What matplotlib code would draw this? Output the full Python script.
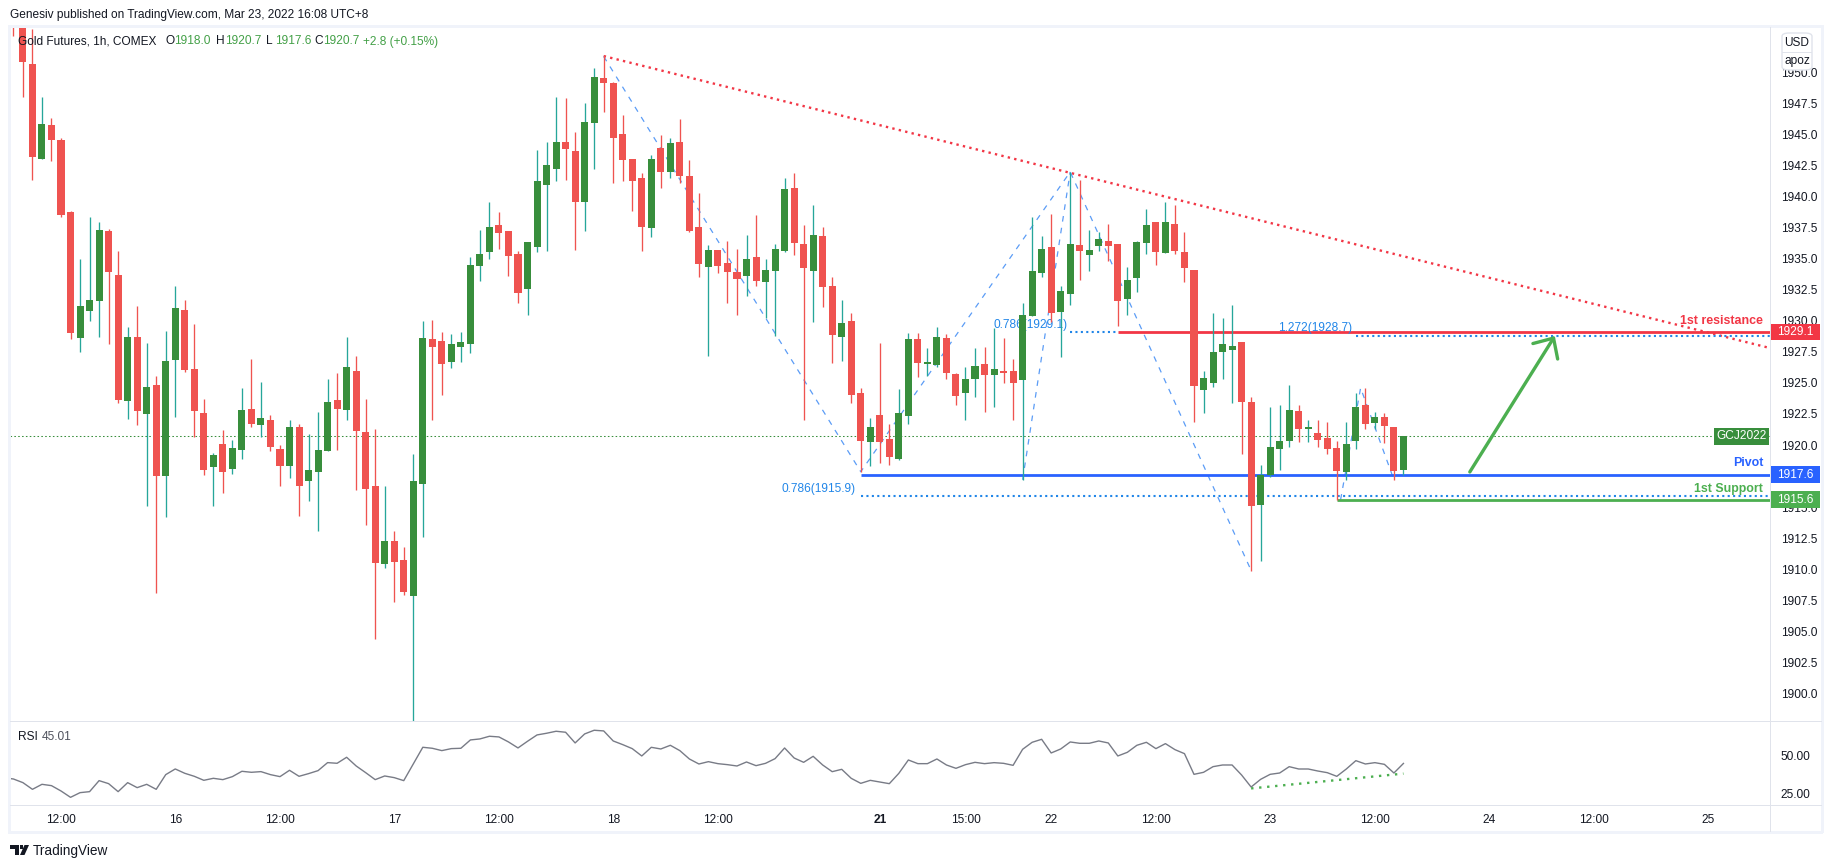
import numpy as np
import matplotlib
matplotlib.use("Agg")
import matplotlib.pyplot as plt
from matplotlib.patches import Rectangle, Polygon, FancyBboxPatch
from matplotlib.transforms import blended_transform_factory

plt.rcParams["font.family"] = ["Liberation Sans", "DejaVu Sans"]

W, H = 1834, 868

opens = [1958.0, 1956.0, 1950.68, 1943.06, 1945.77, 1944.56, 1938.76, 1928.65, 1930.79, 1931.63,
         1937.23, 1933.69, 1923.57, 1928.7, 1922.52, 1924.83, 1917.53, 1926.87, 1930.87, 1926.12,
         1922.58, 1918.25, 1920.08, 1918.09, 1919.62, 1922.9, 1921.64, 1922.01, 1919.68, 1918.33,
         1921.45, 1917.13, 1917.85, 1919.54, 1923.62, 1922.85, 1925.96, 1921.05, 1916.7, 1910.44,
         1912.27, 1910.74, 1907.86, 1916.89, 1928.54, 1928.38, 1926.71, 1927.92, 1928.16, 1934.44,
         1935.57, 1937.72, 1937.23, 1935.38, 1932.59, 1935.97, 1940.97, 1942.25, 1944.4, 1943.68,
         1939.6, 1945.96, 1949.56, 1949.15, 1945.05, 1943.03, 1941.5, 1937.5, 1943.92, 1942.01,
         1944.4, 1941.67, 1937.56, 1934.36, 1935.71, 1934.66, 1933.93, 1933.64, 1935.14, 1933.15,
         1934.04, 1935.65, 1940.7, 1936.19, 1934.04, 1936.83, 1932.8, 1928.72, 1930.0, 1924.19,
         1920.27, 1922.42, 1920.48, 1918.9, 1922.36, 1928.54, 1926.55, 1926.47, 1928.62, 1925.72,
         1924.22, 1925.34, 1926.52, 1925.67, 1925.96, 1925.96, 1925.26, 1930.42, 1933.88, 1935.95,
         1930.74, 1932.19, 1936.11, 1935.33, 1936.05, 1936.43, 1936.19, 1931.78, 1933.48, 1936.3,
         1937.96, 1935.49, 1937.8, 1935.54, 1934.09, 1924.46, 1925.02, 1927.48, 1927.69, 1928.26,
         1923.48, 1915.15, 1917.59, 1919.71, 1920.31, 1922.7, 1921.25, 1920.93, 1920.6, 1919.72,
         1917.86, 1920.31, 1923.26, 1921.81, 1922.29, 1921.49, 1918.0]
highs = [1959.0, 1957.0, 1953.48, 1948.03, 1946.34, 1944.72, 1938.84, 1934.98, 1938.36, 1937.96,
         1937.4, 1935.62, 1929.5, 1931.2, 1928.22, 1925.56, 1929.18, 1932.81, 1931.68, 1929.75,
         1923.71, 1919.36, 1921.21, 1920.4, 1924.59, 1926.93, 1925.07, 1922.42, 1920.0, 1922.01,
         1921.69, 1920.89, 1922.66, 1925.32, 1925.8, 1928.7, 1927.17, 1923.71, 1921.29, 1916.7,
         1913.07, 1911.78, 1919.27, 1929.99, 1930.07, 1929.1, 1928.94, 1929.1, 1935.14, 1937.31,
         1939.57, 1938.76, 1937.23, 1935.62, 1936.35, 1943.76, 1944.4, 1948.03, 1947.95, 1945.21,
         1947.54, 1950.36, 1951.41, 1949.2, 1946.58, 1943.03, 1941.91, 1943.36, 1944.97, 1944.73,
         1946.26, 1942.95, 1940.3, 1936.11, 1935.71, 1936.43, 1935.79, 1936.91, 1938.52, 1934.98,
         1936.19, 1941.5, 1941.91, 1937.72, 1939.33, 1937.56, 1933.53, 1931.68, 1930.63, 1924.59,
         1922.18, 1928.22, 1921.69, 1924.51, 1929.02, 1929.02, 1927.81, 1929.5, 1928.94, 1925.8,
         1926.28, 1927.81, 1927.89, 1929.42, 1928.62, 1926.93, 1931.44, 1938.36, 1936.83, 1938.6,
         1932.8, 1942.0, 1941.34, 1937.32, 1937.15, 1937.8, 1936.19, 1934.34, 1936.43, 1939.01,
         1937.96, 1939.57, 1939.33, 1937.15, 1934.09, 1925.96, 1930.65, 1930.27, 1931.24, 1928.26,
         1923.9, 1918.35, 1923.07, 1923.26, 1924.87, 1923.26, 1922.05, 1922.05, 1921.89, 1920.36,
         1921.89, 1924.15, 1924.63, 1922.62, 1922.54, 1921.49, 1920.7]
lows = [1952.97, 1948.05, 1941.34, 1943.06, 1942.87, 1938.39, 1928.54, 1927.52, 1930.01, 1928.73,
        1928.14, 1923.41, 1922.12, 1921.64, 1915.11, 1908.1, 1914.23, 1922.28, 1925.91, 1920.67,
        1917.61, 1915.11, 1916.16, 1917.69, 1918.9, 1921.48, 1920.62, 1919.54, 1916.72, 1917.37,
        1914.31, 1915.52, 1913.1, 1919.54, 1919.6, 1922.04, 1916.4, 1913.58, 1904.4, 1910.12,
        1907.38, 1907.94, 1897.5, 1912.62, 1922.04, 1924.03, 1926.23, 1926.71, 1927.44, 1933.21,
        1934.98, 1935.81, 1933.64, 1931.46, 1930.5, 1935.57, 1935.65, 1941.29, 1941.34, 1935.73,
        1937.26, 1942.25, 1946.85, 1941.1, 1941.29, 1938.87, 1935.65, 1936.78, 1940.73, 1941.53,
        1941.13, 1937.18, 1933.56, 1927.2, 1933.88, 1931.46, 1930.5, 1932.03, 1932.83, 1930.26,
        1928.81, 1935.54, 1935.33, 1922.04, 1929.93, 1931.14, 1926.63, 1926.79, 1923.41, 1917.85,
        1918.34, 1918.58, 1918.42, 1918.82, 1921.72, 1925.5, 1925.59, 1926.31, 1925.34, 1923.22,
        1922.04, 1923.9, 1922.69, 1923.09, 1925.02, 1922.04, 1917.21, 1930.42, 1933.56, 1929.93,
        1927.12, 1931.3, 1933.32, 1934.04, 1935.65, 1934.85, 1929.61, 1930.5, 1932.35, 1935.41,
        1934.52, 1935.49, 1935.41, 1933.15, 1921.88, 1922.6, 1924.7, 1925.3, 1923.37, 1919.31,
        1909.83, 1910.64, 1917.41, 1918.02, 1919.83, 1920.23, 1920.23, 1919.83, 1919.26, 1915.61,
        1917.17, 1919.66, 1921.33, 1921.33, 1920.2, 1917.17, 1917.6]
closes = [1956.0, 1950.87, 1943.22, 1945.85, 1944.59, 1938.55, 1929.05, 1931.2, 1931.68, 1937.31,
          1933.96, 1923.62, 1928.7, 1922.77, 1924.67, 1917.53, 1926.77, 1931.03, 1926.07, 1922.77,
          1918.01, 1919.19, 1917.85, 1919.76, 1922.82, 1921.72, 1922.17, 1919.87, 1918.33, 1921.45,
          1916.72, 1917.99, 1919.6, 1923.46, 1922.9, 1926.28, 1921.15, 1916.48, 1910.52, 1912.27,
          1910.6, 1908.18, 1917.1, 1928.62, 1927.92, 1926.55, 1928.14, 1928.3, 1934.5, 1935.38,
          1937.56, 1937.1, 1935.25, 1932.27, 1936.35, 1941.26, 1942.55, 1944.4, 1943.86, 1939.6,
          1946.01, 1949.64, 1949.18, 1944.75, 1942.98, 1941.29, 1937.58, 1943.03, 1942.01, 1944.32,
          1941.69, 1937.26, 1934.6, 1935.71, 1934.44, 1933.96, 1933.4, 1934.98, 1933.23, 1934.09,
          1935.79, 1940.62, 1936.3, 1934.28, 1936.91, 1932.75, 1928.89, 1929.83, 1924.05, 1920.35,
          1921.45, 1920.27, 1919.06, 1922.58, 1928.54, 1926.63, 1926.69, 1928.7, 1925.83, 1923.97,
          1925.32, 1926.36, 1925.67, 1926.12, 1925.83, 1925.02, 1930.47, 1934.0, 1935.79, 1930.66,
          1932.4, 1936.19, 1935.65, 1935.71, 1936.59, 1936.05, 1931.62, 1933.29, 1936.35, 1937.72,
          1935.57, 1937.96, 1935.65, 1934.28, 1924.78, 1925.4, 1927.49, 1928.17, 1928.01, 1923.45,
          1915.07, 1917.59, 1919.8, 1920.36, 1922.86, 1921.33, 1921.49, 1920.44, 1919.66, 1917.94,
          1920.12, 1923.1, 1921.73, 1922.29, 1921.57, 1917.9, 1920.7]

# first value sits just left of the pane
rsi = [35.4, 34.61, 32.16, 27.69, 31.04, 30.15, 26.58, 22.33, 25.46, 26.13, 33.50, 31.49, 26.13, 32.16, 28.81,
       31.04, 27.69, 37.52, 41.31, 38.41, 36.40, 33.72, 35.06, 34.17, 36.18, 39.75, 39.08, 39.53, 37.52,
       36.18, 40.42, 36.40, 38.19, 40.20, 45.55, 45.11, 49.13, 43.32, 38.85, 34.17, 36.62, 35.51, 33.50,
       44.66, 55.82, 55.15, 53.59, 54.93, 55.15, 60.73, 61.40, 63.19, 62.74, 59.39, 55.38, 59.84, 64.08,
       65.20, 66.54, 65.87, 58.72, 64.75, 67.21, 66.76, 60.04, 57.59, 54.91, 50.00, 55.80, 54.68, 57.14,
       53.57, 47.99, 44.64, 46.20, 44.86, 44.19, 43.30, 45.98, 43.52, 45.08, 48.21, 55.35, 48.66, 45.75,
       49.77, 43.97, 39.50, 41.07, 35.04, 31.69, 33.70, 32.58, 31.47, 38.39, 47.32, 44.86, 44.86, 47.99,
       43.97, 41.74, 44.19, 45.75, 44.86, 45.53, 45.08, 43.74, 54.46, 59.15, 61.16, 52.01, 54.68, 59.37,
       58.48, 58.48, 60.04, 58.70, 50.00, 52.45, 57.14, 59.15, 54.91, 58.26, 54.24, 51.56, 37.72, 39.06,
       42.85, 43.97, 43.97, 37.27, 29.23, 34.37, 37.72, 38.61, 42.85, 41.29, 41.29, 39.95, 38.83, 36.38,
       41.29, 46.87, 44.64, 45.53, 44.41, 38.61, 45.01]

price_ticks = [1900.0, 1902.5, 1905.0, 1907.5, 1910.0, 1912.5, 1915.0, 1917.5, 1920.0, 1922.5, 1925.0,
               1927.5, 1930.0, 1932.5, 1935.0, 1937.5, 1940.0, 1942.5, 1945.0, 1947.5, 1950.0]
rsi_ticks = [25.0, 50.0]
time_ticks = [5, 17, 28, 40, 51, 63, 74, 91, 100, 109, 120, 132, 143, 155, 166, 178]
time_labels = ["12:00", "16", "12:00", "17", "12:00", "18", "12:00", "21", "15:00", "22", "12:00", "23",
               "12:00", "24", "12:00", "25"]

trend_x = [62, 184.5]
trend_y = [1951.33, 1927.81]
zigzag_legs = [([62, 89, 111, 130], [1951.3, 1917.85, 1942.0, 1909.9]),
               ([106, 111], [1917.2, 1942.0]),
               ([139.4, 141.5, 145], [1915.6, 1924.6, 1917.2])]
rsi_trend_x = [130, 146]
rsi_trend_y = [28.3, 38.2]

last_price = 1920.7
resistance, pivot, support = 1929.1, 1917.6, 1915.6

DARK = "#131722"
RED, GREEN = "#ef5350", "#388e3c"
WICK_UP = "#26a69a"
LINE_RED, LINE_BLUE, LINE_GREEN = "#f23645", "#2962ff", "#4caf50"
FIB = "#2186e8"
ZIG = "#5b9cf6"
FRAME, SEP = "#f0f3fa", "#e0e3eb"
FS = 8.6


def fx(px):
    return px / W


def fy(px):
    return 1 - px / H


def ftext(px, py, s, **kw):
    kw.setdefault("color", DARK)
    kw.setdefault("fontsize", FS)
    return fig.text(fx(px), fy(py), s, va="center", **kw)


fig = plt.figure(figsize=(W / 100, H / 100), dpi=100, facecolor="white")
ax = fig.add_axes([fx(10), fy(721), 1760 / W, 694 / H])
ax2 = fig.add_axes([fx(10), fy(805), 1760 / W, 84 / H])

x = np.arange(len(opens))
opens_a, closes_a = np.array(opens), np.array(closes)
highs_a, lows_a = np.array(highs), np.array(lows)
up = closes_a >= opens_a

ax.set_xlim(-0.357, 184.5)
ax.set_ylim(1897.77, 1953.67)
ax2.set_xlim(-0.357, 184.5)
ax2.set_ylim(17.2, 73.4)

# drawings sit under the candles
ax.axhline(last_price, color=GREEN, lw=0.75, ls=(0, (1.5, 2.2)), zorder=1)
ax.plot(trend_x, trend_y, color=LINE_RED, lw=1.7, ls=(0, (1, 1.8)), zorder=2)
for zx, zy in zigzag_legs:
    ax.plot(zx, zy, color=ZIG, lw=0.9, ls=(0, (4.5, 5)), zorder=2)
ax.plot([89, 184.5], [1915.9, 1915.9], color=FIB, lw=1.5, ls=(0, (1, 1.6)), zorder=2)
ax.plot([111, 116], [1929.1, 1929.1], color=FIB, lw=1.5, ls=(0, (1, 1.6)), zorder=2)
ax.plot([141, 184.5], [1928.75, 1928.75], color=FIB, lw=1.5, ls=(0, (1, 1.6)), zorder=2)
ax.plot([116, 184.5], [resistance, resistance], color=LINE_RED, lw=2, solid_capstyle="butt", zorder=2)
ax.plot([89, 184.5], [pivot, pivot], color=LINE_BLUE, lw=2, solid_capstyle="butt", zorder=2)
ax.plot([139, 184.5], [support, support], color=LINE_GREEN, lw=2, solid_capstyle="butt", zorder=2)
ax.annotate("", xy=(161.9, 1928.78), xytext=(152.97, 1917.83), zorder=2,
            arrowprops=dict(arrowstyle="->,head_length=0.8,head_width=0.75", color=LINE_GREEN, lw=2.4,
                            shrinkA=0, shrinkB=0, mutation_scale=14))

ax.text(88.5, 1916.45, "0.786(1915.9)", ha="right", va="center", color=FIB, fontsize=FS, zorder=2)
ax.text(110.7, 1929.67, "0.786(1929.1)", ha="right", va="center", color=FIB, fontsize=FS, zorder=2)
ax.text(140.6, 1929.43, "1.272(1928.7)", ha="right", va="center", color=FIB, fontsize=FS, zorder=2)
ax.text(183.8, 1930.0, "1st resistance", ha="right", va="center", color=LINE_RED, fontsize=FS + 0.3,
        fontweight="bold", zorder=2)
ax.text(183.8, 1918.57, "Pivot", ha="right", va="center", color=LINE_BLUE, fontsize=FS + 0.3,
        fontweight="bold", zorder=2)
ax.text(183.8, 1916.46, "1st Support", ha="right", va="center", color=LINE_GREEN, fontsize=FS + 0.3,
        fontweight="bold", zorder=2)

# candles
ax.vlines(x[up], lows_a[up], highs_a[up], color=WICK_UP, lw=0.95, zorder=3)
ax.vlines(x[~up], lows_a[~up], highs_a[~up], color=RED, lw=0.95, zorder=3)
ax.bar(x[up], (closes_a - opens_a)[up], bottom=opens_a[up], width=0.74, color=GREEN, zorder=4)
ax.bar(x[~up], (opens_a - closes_a)[~up], bottom=closes_a[~up], width=0.74, color=RED, zorder=4)

ax2.plot(np.arange(-1, len(rsi) - 1), rsi, color="#787b86", lw=1.0, zorder=2)
ax2.plot(rsi_trend_x, rsi_trend_y, color=LINE_GREEN, lw=1.7, ls=(0, (1, 2.4)), zorder=3)

for a in (ax, ax2):
    for s in a.spines.values():
        s.set_visible(False)
    a.yaxis.tick_right()
    a.tick_params(axis="y", length=0, pad=7.6, labelsize=FS, labelcolor=DARK)
    a.tick_params(axis="x", length=0)
ax.set_xticks([])
ax.set_yticks(price_ticks)
ax.set_yticklabels([f"{p:.1f}" for p in price_ticks])
ax2.set_yticks(rsi_ticks)
ax2.set_yticklabels([f"{p:.2f}" for p in rsi_ticks])
ax2.set_xticks(time_ticks)
ax2.set_xticklabels(time_labels, fontsize=FS, color=DARK)
ax2.tick_params(axis="x", pad=6.6)
for lab in ax2.get_xticklabels():
    if lab.get_text() == "21":
        lab.set_fontweight("bold")

# price tags on the scale
tr = blended_transform_factory(ax.transAxes, ax.transData)
tag_h = 1.35
for level, col in [(resistance, LINE_RED), (pivot, LINE_BLUE), (support, LINE_GREEN)]:
    ax.add_patch(Rectangle((1.0, level - tag_h / 2), 50 / 1760, tag_h, transform=tr, color=col,
                           clip_on=False, zorder=6, lw=0))
    ax.text(1 + 25 / 1760, level, f"{level:.1f}", transform=tr, color="white", va="center", ha="center",
            fontsize=FS, clip_on=False, zorder=7)
ax.add_patch(Rectangle((1 - 56 / 1760, last_price - tag_h / 2), 55 / 1760, tag_h, transform=tr, color=GREEN,
                       zorder=6, lw=0))
ax.text(1 - 28.5 / 1760, last_price, "GCJ2022", transform=tr, color="white", va="center", ha="center",
        fontsize=FS, zorder=7)

# frame and separators
for (x0, y0, w, h, c) in [(8, 25, 1815, 2.5, FRAME), (8, 831, 1815, 2.5, FRAME), (8, 25, 2.5, 808, FRAME),
                          (1821, 25, 2.5, 808, FRAME), (1769.5, 27, 1.2, 805, SEP),
                          (10, 721, 1812, 1.2, SEP), (10, 805, 1812, 1.2, SEP)]:
    fig.add_artist(Rectangle((fx(x0), fy(y0 + h)), w / W, h / H, transform=fig.transFigure, color=c, lw=0, zorder=8))

# unit button
fig.add_artist(FancyBboxPatch((fx(1782), fy(70)), 30 / W, 37 / H, boxstyle="round,pad=0,rounding_size=0.004",
                              transform=fig.transFigure, facecolor="white", edgecolor=SEP, lw=1, zorder=9,
                              mutation_aspect=H / W * 2))
fig.add_artist(Rectangle((fx(1782), fy(52.5)), 30 / W, 1 / H, transform=fig.transFigure, color=SEP, lw=0, zorder=10))
ftext(1797, 43, "USD", ha="center", zorder=10)
ftext(1797, 61, "apoz", ha="center", zorder=10)

# header texts
ftext(10, 15, "Genesiv published on TradingView.com, Mar 23, 2022 16:08 UTC+8", zorder=10)
ftext(18, 41.5, "Gold Futures, 1h, COMEX", zorder=10)
for px, label, val in [(165, "O", "1918.0"), (216, "H", "1920.7"), (266, "L", "1917.6"), (314, "C", "1920.7")]:
    ftext(px, 41.5, label, zorder=10)
    ftext(px + 9, 41.5, val, color="#43a047", zorder=10)
ftext(363, 41.5, "+2.8 (+0.15%)", color="#43a047", zorder=10)
ftext(18, 736.5, "RSI", zorder=10)
ftext(42, 736.5, "45.01", color="#50535e", zorder=10)

# logo
logo = [Polygon([(fx(10), fy(845)), (fx(18.5), fy(845)), (fx(18.5), fy(855)), (fx(14.5), fy(855)),
                 (fx(14.5), fy(849)), (fx(10), fy(849))], closed=True),
        Polygon([(fx(20), fy(855)), (fx(24.5), fy(855)), (fx(29), fy(845)), (fx(24.5), fy(845))], closed=True),
        Rectangle((fx(19.5), fy(849)), 3.6 / W, 4 / H)]
for p in logo:
    p.set_transform(fig.transFigure)
    p.set_facecolor(DARK)
    p.set_edgecolor("none")
    fig.add_artist(p)
ftext(33, 850.5, "TradingView", fontsize=9.8)

fig.savefig("out.png", dpi=100, facecolor="white")
